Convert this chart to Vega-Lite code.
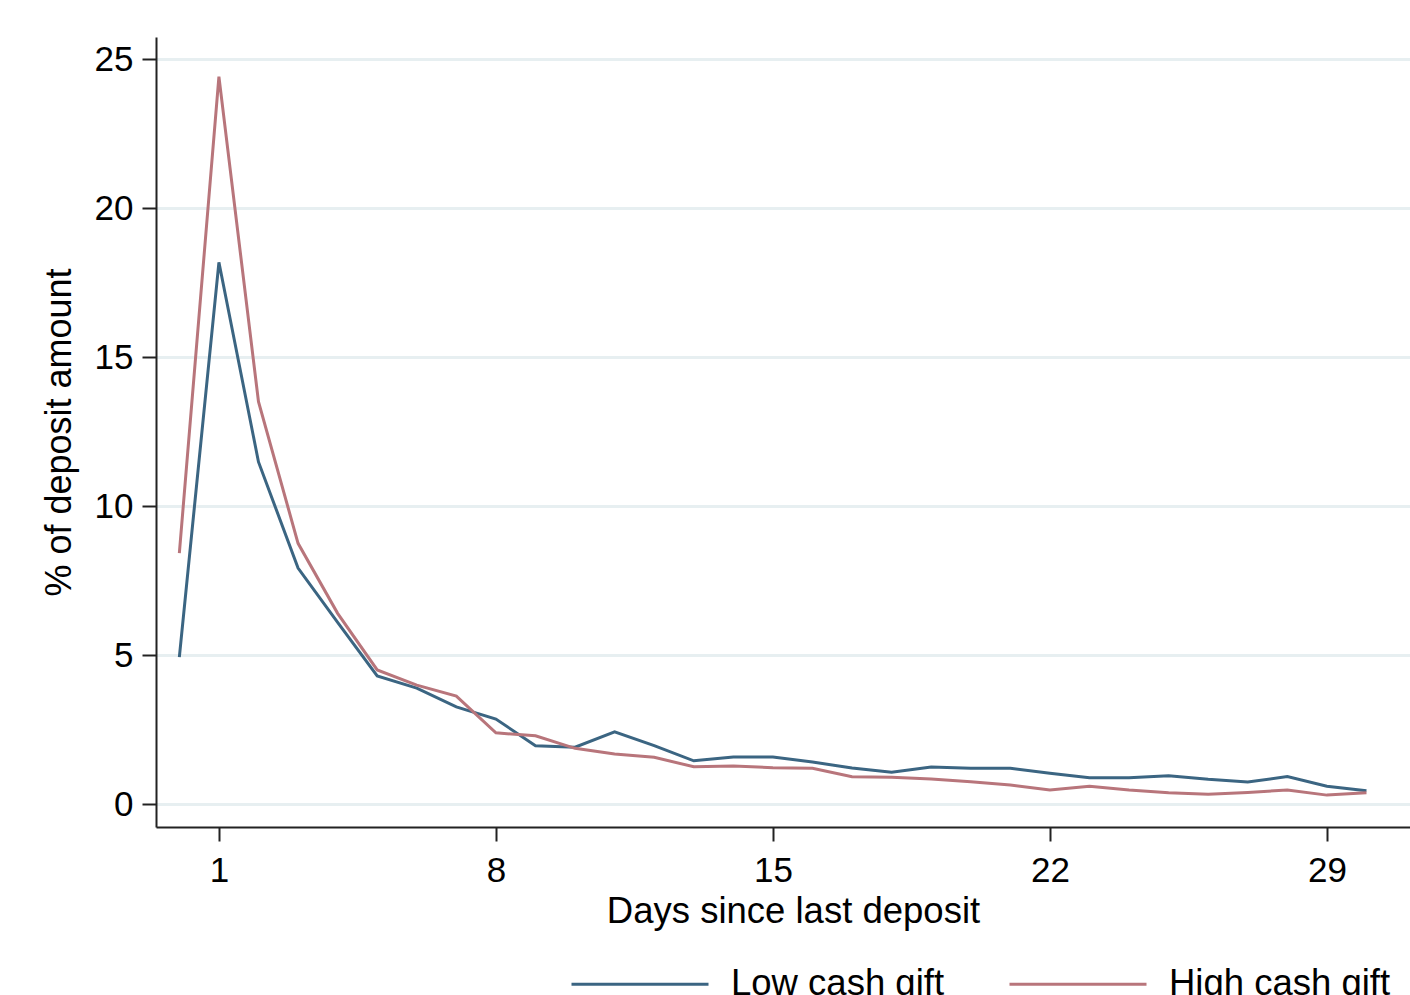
{
  "$schema": "https://vega.github.io/schema/vega-lite/v6.json",
  "width": 1254,
  "height": 790,
  "autosize": {"type": "none"},
  "padding": {"left": 156, "top": 37, "right": 0, "bottom": 168},
  "background": "white",
  "config": {"view": {"stroke": null}, "font": "Liberation Sans"},
  "data": {
    "values": [
      {"day": 0, "group": "Low cash gift", "pct": 4.93},
      {"day": 1, "group": "Low cash gift", "pct": 18.18},
      {"day": 2, "group": "Low cash gift", "pct": 11.48},
      {"day": 3, "group": "Low cash gift", "pct": 7.92},
      {"day": 4, "group": "Low cash gift", "pct": 6.1},
      {"day": 5, "group": "Low cash gift", "pct": 4.3},
      {"day": 6, "group": "Low cash gift", "pct": 3.89},
      {"day": 7, "group": "Low cash gift", "pct": 3.26},
      {"day": 8, "group": "Low cash gift", "pct": 2.85},
      {"day": 9, "group": "Low cash gift", "pct": 1.96},
      {"day": 10, "group": "Low cash gift", "pct": 1.91},
      {"day": 11, "group": "Low cash gift", "pct": 2.42},
      {"day": 12, "group": "Low cash gift", "pct": 1.96},
      {"day": 13, "group": "Low cash gift", "pct": 1.45},
      {"day": 14, "group": "Low cash gift", "pct": 1.58},
      {"day": 15, "group": "Low cash gift", "pct": 1.58},
      {"day": 16, "group": "Low cash gift", "pct": 1.41},
      {"day": 17, "group": "Low cash gift", "pct": 1.21},
      {"day": 18, "group": "Low cash gift", "pct": 1.07},
      {"day": 19, "group": "Low cash gift", "pct": 1.24},
      {"day": 20, "group": "Low cash gift", "pct": 1.2},
      {"day": 21, "group": "Low cash gift", "pct": 1.2},
      {"day": 22, "group": "Low cash gift", "pct": 1.03},
      {"day": 23, "group": "Low cash gift", "pct": 0.88},
      {"day": 24, "group": "Low cash gift", "pct": 0.88},
      {"day": 25, "group": "Low cash gift", "pct": 0.95},
      {"day": 26, "group": "Low cash gift", "pct": 0.83},
      {"day": 27, "group": "Low cash gift", "pct": 0.74},
      {"day": 28, "group": "Low cash gift", "pct": 0.92},
      {"day": 29, "group": "Low cash gift", "pct": 0.6},
      {"day": 30, "group": "Low cash gift", "pct": 0.45},
      {"day": 0, "group": "High cash gift", "pct": 8.42},
      {"day": 1, "group": "High cash gift", "pct": 24.41},
      {"day": 2, "group": "High cash gift", "pct": 13.5},
      {"day": 3, "group": "High cash gift", "pct": 8.75},
      {"day": 4, "group": "High cash gift", "pct": 6.4},
      {"day": 5, "group": "High cash gift", "pct": 4.5},
      {"day": 6, "group": "High cash gift", "pct": 3.99},
      {"day": 7, "group": "High cash gift", "pct": 3.62},
      {"day": 8, "group": "High cash gift", "pct": 2.39},
      {"day": 9, "group": "High cash gift", "pct": 2.29},
      {"day": 10, "group": "High cash gift", "pct": 1.87},
      {"day": 11, "group": "High cash gift", "pct": 1.68},
      {"day": 12, "group": "High cash gift", "pct": 1.57},
      {"day": 13, "group": "High cash gift", "pct": 1.25},
      {"day": 14, "group": "High cash gift", "pct": 1.28},
      {"day": 15, "group": "High cash gift", "pct": 1.22},
      {"day": 16, "group": "High cash gift", "pct": 1.2},
      {"day": 17, "group": "High cash gift", "pct": 0.92},
      {"day": 18, "group": "High cash gift", "pct": 0.9},
      {"day": 19, "group": "High cash gift", "pct": 0.84},
      {"day": 20, "group": "High cash gift", "pct": 0.75},
      {"day": 21, "group": "High cash gift", "pct": 0.64},
      {"day": 22, "group": "High cash gift", "pct": 0.47},
      {"day": 23, "group": "High cash gift", "pct": 0.6},
      {"day": 24, "group": "High cash gift", "pct": 0.47},
      {"day": 25, "group": "High cash gift", "pct": 0.38},
      {"day": 26, "group": "High cash gift", "pct": 0.33},
      {"day": 27, "group": "High cash gift", "pct": 0.39},
      {"day": 28, "group": "High cash gift", "pct": 0.47},
      {"day": 29, "group": "High cash gift", "pct": 0.3},
      {"day": 30, "group": "High cash gift", "pct": 0.38}
    ]
  },
  "mark": {"type": "line", "strokeWidth": 3},
  "encoding": {
    "x": {
      "field": "day",
      "type": "quantitative",
      "scale": {"domain": [-0.59, 31.1], "nice": false, "zero": false},
      "axis": {
        "values": [1, 8, 15, 22, 29],
        "grid": false,
        "title": "Days since last deposit",
        "titleFontSize": 36.5,
        "titleFontWeight": "normal",
        "titleColor": "#000000",
        "titlePadding": 5,
        "titleX": 637,
        "titleAlign": "center",
        "labelFontSize": 35,
        "labelColor": "#000000",
        "labelPadding": 12,
        "labelFlush": false,
        "tickSize": 14,
        "tickWidth": 2,
        "tickColor": "#222222",
        "domainWidth": 2,
        "domainColor": "#222222"
      }
    },
    "y": {
      "field": "pct",
      "type": "quantitative",
      "scale": {"domain": [-0.77, 25.74], "nice": false, "zero": false},
      "axis": {
        "values": [0, 5, 10, 15, 20, 25],
        "grid": true,
        "gridColor": "#e7eff1",
        "gridWidth": 3,
        "title": "% of deposit amount",
        "titleFontSize": 36,
        "titleFontWeight": "normal",
        "titleColor": "#000000",
        "titlePadding": 16,
        "labelFontSize": 35,
        "labelColor": "#000000",
        "labelPadding": 9,
        "labelFlush": false,
        "tickSize": 14,
        "tickWidth": 2,
        "tickColor": "#222222",
        "domainWidth": 2,
        "domainColor": "#222222"
      }
    },
    "color": {
      "field": "group",
      "type": "nominal",
      "scale": {"domain": ["Low cash gift", "High cash gift"], "range": ["#3b6582", "#b8757b"]},
      "legend": {
        "title": null,
        "orient": "none",
        "direction": "horizontal",
        "legendX": 414,
        "legendY": 877,
        "padding": 0,
        "symbolType": "stroke",
        "symbolSize": 18769,
        "symbolStrokeWidth": 3,
        "labelFontSize": 36.5,
        "labelColor": "#000000",
        "labelOffset": 21,
        "columnPadding": 58,
        "labelLimit": 400
      }
    }
  }
}
